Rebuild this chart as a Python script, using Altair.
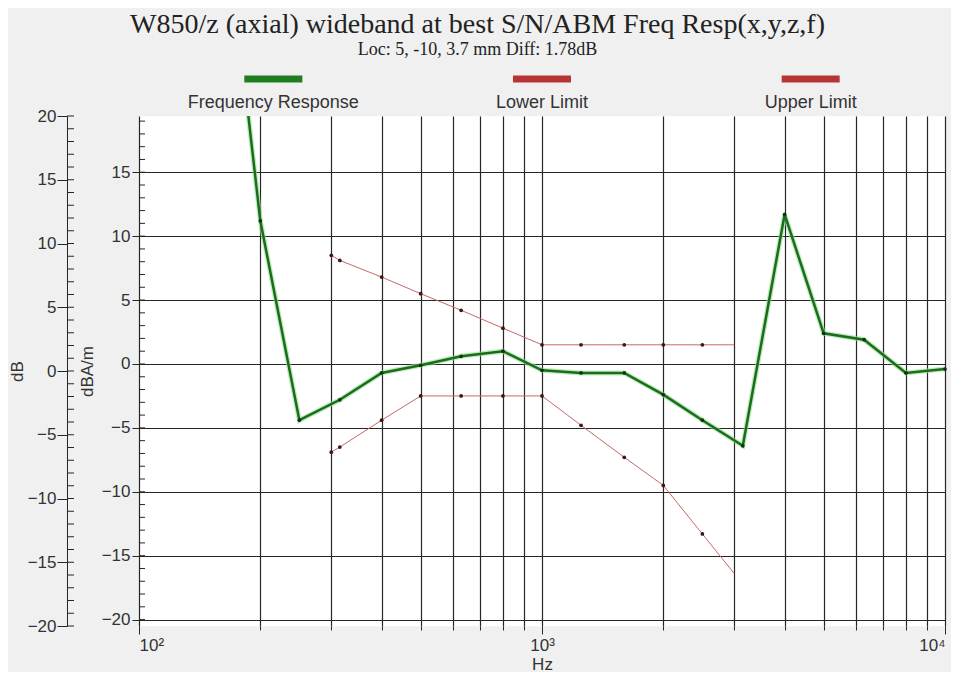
import altair as alt
import pandas as pd

# ---- data ----
fr_hz = [160, 200, 250, 315, 400, 500, 630, 800, 1000, 1250, 1600, 2000, 2500, 3150, 4000, 5000, 6300, 8000, 10000]
fr_db = [38.0, 11.2, -4.4, -2.8, -0.7, -0.1, 0.6, 1.0, -0.5, -0.7, -0.7, -2.4, -4.4, -6.4, 11.7, 2.4, 1.9, -0.7, -0.4]
lim_hz = [300, 315, 400, 500, 630, 800, 1000, 1250, 1600, 2000, 2500, 3000]
upper_db = [8.5, 8.1, 6.8, 5.5, 4.2, 2.8, 1.5, 1.5, 1.5, 1.5, 1.5, 1.5]
lower_db = [-6.9, -6.5, -4.4, -2.5, -2.5, -2.5, -2.5, -4.8, -7.3, -9.5, -13.3, -16.4]
legend_names = ["Frequency Response", "Lower Limit", "Upper Limit"]
legend_colors = ["#1e7d1e", "#b83434", "#b83434"]
x_ticks = [100, 200, 300, 400, 500, 600, 700, 800, 900, 1000,
           2000, 3000, 4000, 5000, 6000, 7000, 8000, 9000, 10000]
inner_major = [-20, -15, -10, -5, 0, 5, 10, 15]
inner_minor = list(range(-20, 20))
db_major = [-20, -15, -10, -5, 0, 5, 10, 15, 20]
db_minor = list(range(-20, 21))

FONT = "Liberation Sans"
SERIF = "Liberation Serif"
GRID = "#262626"
TXT = "#333333"
FS = 17

fr_df = pd.DataFrame({"hz": fr_hz, "db": fr_db})
lim_df = pd.concat([
    pd.DataFrame({"hz": lim_hz, "db": upper_db, "series": "Upper Limit"}),
    pd.DataFrame({"hz": lim_hz, "db": lower_db, "series": "Lower Limit"}),
])
minor_df = pd.DataFrame({"db": inner_minor})
dbminor_df = pd.DataFrame({"v": db_minor})

x_enc = alt.X(
    "hz:Q",
    scale=alt.Scale(type="log", domain=[100, 10000], nice=False),
    axis=alt.Axis(
        values=x_ticks,
        labelExpr="datum.value == 100 ? '10\u00b2' : datum.value == 1000 ? '10\u00b3' : datum.value == 10000 ? '10\u2074' : ''",
        grid=True, gridColor=GRID, gridWidth=1.2, gridOpacity=1,
        domain=False,
        tickColor=GRID,
        tickSize={"condition": {"test": "datum.value == 100 || datum.value == 1000 || datum.value == 10000", "value": 8}, "value": 4},
        labelFont=FONT, labelFontSize=FS, labelColor=TXT, labelPadding=3,
        title="Hz", titleFont=FONT, titleFontSize=FS, titleFontWeight="normal", titleColor=TXT, titlePadding=3,
    ),
)
y_scale = alt.Scale(domain=[-20.5, 19.4], nice=False, zero=False)
y_enc = alt.Y(
    "db:Q",
    scale=y_scale,
    axis=alt.Axis(
        values=inner_major,
        grid=True, gridColor=GRID, gridWidth=1.2, gridOpacity=1,
        domain=False, tickColor=GRID, tickSize=7,
        labelFont=FONT, labelFontSize=FS, labelColor=TXT, labelPadding=2,
        title="dBA/m", titleFont=FONT, titleFontSize=FS, titleFontWeight="normal", titleColor=TXT,
        titlePadding=5,
    ),
)

glow = alt.Chart(fr_df).mark_line(color="#8fe08f", strokeWidth=5, opacity=0.6, clip=True).encode(x=x_enc, y=y_enc)
green = alt.Chart(fr_df).mark_line(color="#1d6b1d", strokeWidth=2.5, clip=True).encode(x="hz:Q", y="db:Q")
green_pts = alt.Chart(fr_df).transform_filter("datum.db < 19").mark_circle(color="#123312", size=14, opacity=1).encode(x="hz:Q", y="db:Q")
red = alt.Chart(lim_df).mark_line(color="#c86868", strokeWidth=1).encode(x="hz:Q", y="db:Q", detail="series:N")
red_pts = alt.Chart(lim_df).transform_filter("datum.hz < 3000").mark_circle(color="#401515", size=14, opacity=1).encode(x="hz:Q", y="db:Q")
minor = alt.Chart(minor_df).mark_rule(color=GRID, strokeWidth=1).encode(
    x=alt.value(0), x2=alt.value(6), y="db:Q")

inner = alt.layer(glow, minor, red, red_pts, green, green_pts)

db_axis = alt.Chart(dbminor_df).mark_rule(color=GRID, strokeWidth=1).encode(
    x=alt.value(-72), x2=alt.value(-65),
    y=alt.Y("v:Q", scale=alt.Scale(domain=[-20, 20], nice=False, zero=False),
            axis=alt.Axis(orient="left", offset=72, values=db_major, grid=False,
                          domainColor=GRID, tickColor=GRID, tickSize=10,
                          labelFont=FONT, labelFontSize=FS, labelColor=TXT, labelPadding=1,
                          title="dB", titleFont=FONT, titleFontSize=FS, titleFontWeight="normal",
                          titleColor=TXT, titlePadding=1)),
)

main = alt.layer(inner, db_axis).resolve_scale(y="independent").properties(
    width=806, height=510,
    view=alt.ViewBackground(stroke=GRID, strokeWidth=1.2, fill="white"),
)

leg_df = pd.DataFrame({"name": legend_names, "color": legend_colors})
leg_x = alt.X("name:N", sort=legend_names, scale=alt.Scale(type="point", padding=0.5), axis=None)
swatch = alt.Chart(leg_df).mark_rule(strokeWidth=7, xOffset=-29, x2Offset=29).encode(
    x=leg_x, x2="name:N", y=alt.value(16), color=alt.Color("color:N", scale=None))
leg_txt = alt.Chart(leg_df).mark_text(font=FONT, fontSize=18, color=TXT, baseline="middle").encode(
    x=leg_x, y=alt.value(40), text="name:N")
legend = alt.layer(swatch, leg_txt).properties(
    width=806, height=50, view=alt.ViewBackground(strokeOpacity=0))

chart = alt.vconcat(legend, main, spacing=3, bounds="flush").properties(
    title=alt.TitleParams(
        text="W850/z (axial) wideband at best S/N/ABM Freq Resp(x,y,z,f)",
        subtitle="Loc: 5, -10, 3.7 mm Diff: 1.78dB",
        font=SERIF, fontSize=28, fontWeight="normal", color="#222222",
        subtitleFont=SERIF, subtitleFontSize=18, subtitleColor="#222222", subtitlePadding=2,
        anchor="middle", offset=4,
    ),
    background="#f0f0f0",
    padding={"left": 0, "right": 4, "top": 3, "bottom": 0},
).configure_view(strokeOpacity=0)

chart.save("out.html", embed_options={"renderer": "svg", "actions": False})
